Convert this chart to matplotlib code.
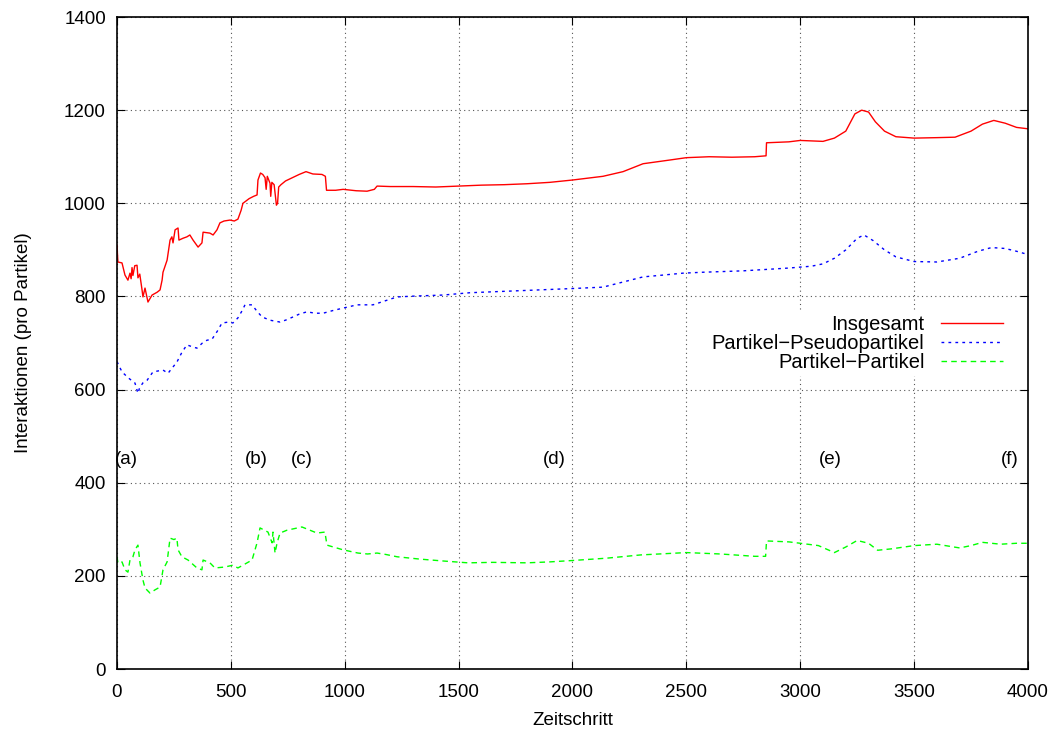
import numpy as np
import matplotlib
matplotlib.use('Agg')
import matplotlib.pyplot as plt

plt.rcParams['font.family'] = ['Liberation Sans', 'DejaVu Sans']

# Interaktionen pro Partikel ueber die Zeitschritte
x_ges = [0, 4, 22, 35, 48, 57, 62, 66, 70, 78, 88, 92, 100, 110, 114, 123, 136, 154, 176,
         189, 198, 202, 220, 233, 241, 246, 255, 268, 272, 290, 307, 320, 334, 356, 373, 378,
         408, 422, 439, 452, 470, 496, 515, 531, 545, 553, 580, 600, 615, 619, 630, 640, 650,
         655, 660, 672, 675, 680, 690, 700, 705, 710, 720, 740, 770, 800, 830, 860, 900, 915,
         920, 960, 993, 1050, 1098, 1130, 1142, 1200, 1300, 1400, 1500, 1600, 1700, 1800,
         1900, 2000, 2134, 2222, 2310, 2428, 2500, 2600, 2700, 2800, 2850, 2852, 2950, 3000,
         3100, 3150, 3200, 3240, 3270, 3300, 3330, 3370, 3420, 3500, 3600, 3680, 3750, 3800,
         3850, 3900, 3950, 4000]
y_ges = [910, 874, 872, 846, 835, 850, 838, 862, 845, 866, 867, 840, 848, 814, 799, 818, 788,
         803, 809, 814, 835, 852, 878, 921, 928, 915, 943, 947, 921, 925, 928, 932, 921, 906,
         915, 938, 936, 932, 943, 958, 962, 964, 962, 966, 985, 1000, 1010, 1015, 1018, 1050,
         1065, 1062, 1055, 1030, 1058, 1043, 1015, 1045, 1040, 996, 1000, 1035, 1040, 1048,
         1055, 1062, 1068, 1063, 1062, 1058, 1028, 1028, 1030, 1027, 1026, 1030, 1037, 1036,
         1036, 1035, 1037, 1039, 1040, 1042, 1045, 1050, 1058, 1068, 1085, 1093, 1098, 1100,
         1099, 1100, 1102, 1130, 1132, 1135, 1133, 1140, 1155, 1192, 1200, 1196, 1175, 1155,
         1143, 1140, 1141, 1142, 1155, 1170, 1178, 1172, 1163, 1160]

x_pp = [0, 10, 22, 50, 79, 92, 100, 115, 132, 158, 180, 202, 224, 240, 263, 285, 307, 330,
        351, 375, 395, 417, 440, 461, 490, 509, 531, 550, 562, 593, 615, 637, 672, 716, 745,
        773, 800, 834, 870, 905, 950, 993, 1054, 1124, 1186, 1230, 1317, 1431, 1550, 1700,
        1800, 1900, 2000, 2134, 2222, 2310, 2400, 2485, 2573, 2749, 2850, 2950, 3050, 3100,
        3150, 3200, 3250, 3280, 3320, 3370, 3420, 3500, 3600, 3700, 3780, 3840, 3900, 3950,
        4000]
y_pp = [660, 650, 638, 625, 614, 592, 605, 615, 620, 638, 640, 642, 635, 645, 659, 680, 696,
        692, 689, 700, 706, 708, 725, 743, 745, 743, 754, 770, 782, 782, 768, 756, 749, 745,
        750, 756, 762, 767, 764, 764, 770, 775, 782, 782, 792, 799, 801, 803, 808, 811, 813,
        815, 817, 820, 831, 842, 846, 850, 852, 855, 858, 861, 865, 870, 882, 900, 925, 932,
        920, 900, 885, 875, 874, 882, 897, 905, 903, 897, 890]

x_p = [0, 4, 22, 35, 48, 57, 70, 79, 92, 101, 114, 123, 145, 167, 189, 202, 220, 233, 250,
       263, 268, 285, 312, 351, 373, 378, 408, 430, 474, 509, 531, 553, 593, 615, 628, 663,
       681, 685, 694, 703, 716, 746, 812, 878, 913, 922, 992, 1058, 1100, 1142, 1180, 1230,
       1330, 1431, 1541, 1650, 1800, 1900, 2000, 2150, 2300, 2500, 2650, 2800, 2848, 2852,
       2950, 3000, 3080, 3150, 3200, 3250, 3300, 3340, 3400, 3500, 3600, 3700, 3750, 3800,
       3880, 3950, 4000]
y_p = [241, 228, 230, 213, 208, 234, 241, 256, 266, 228, 191, 174, 163, 170, 176, 213, 230,
       281, 278, 281, 256, 241, 234, 217, 213, 234, 228, 217, 219, 223, 217, 223, 234, 271,
       303, 294, 271, 294, 249, 271, 292, 298, 305, 292, 294, 266, 256, 249, 247, 249, 246,
       241, 236, 232, 228, 229, 228, 230, 233, 238, 245, 250, 247, 242, 242, 275, 273, 270,
       265, 250, 262, 276, 270, 255, 258, 265, 268, 260, 265, 272, 268, 270, 270]

marken = ['(a)', '(b)', '(c)', '(d)', '(e)', '(f)']
marken_x = [40, 610, 810, 1920, 3130, 3920]
marken_y = 450

fig = plt.figure(figsize=(10.54, 7.31), dpi=100)
ax = fig.add_axes([0.111, 0.0848, 0.8643, 0.8919])

ax.plot(x_ges, y_ges, color='#ff0000', lw=1.0, label='Insgesamt')
ax.plot(x_pp, y_pp, color='#0000ff', lw=1.0, dashes=(2, 3), label='Partikel\u2212Pseudopartikel')
ax.plot(x_p, y_p, color='#00ff00', lw=1.0, dashes=(4, 3), label='Partikel\u2212Partikel')

for txt, xm in zip(marken, marken_x):
    ax.text(xm, marken_y, txt, fontsize=13.5, ha='center', va='center')

ax.set_xlim(0, 4000)
ax.set_ylim(0, 1400)
ax.set_xticks(np.arange(0, 4001, 500))
ax.set_yticks(np.arange(0, 1401, 200))
ax.grid(True, color='#555555', linestyle=(0, (1, 3)), lw=0.8)
ax.tick_params(direction='in', top=True, right=True, length=6, labelsize=13.5)
ax.tick_params(axis='x', pad=11)
ax.tick_params(axis='y', pad=8)
for s in ax.spines.values():
    s.set_linewidth(1.2)

ax.set_xlabel('Zeitschritt', fontsize=13.5, labelpad=8)
ax.set_ylabel('Interaktionen (pro Partikel)', fontsize=13.5, labelpad=23)

leg = ax.legend(loc='upper right', bbox_to_anchor=(0.988, 0.565), markerfirst=False,
                frameon=True, fancybox=False, edgecolor='none', facecolor='white',
                framealpha=1, fontsize=14.5, handlelength=3.1, labelspacing=0.0,
                borderpad=0.2, handletextpad=0.8)
for t in leg.get_texts():
    t.set_ha('right')

fig.savefig('out.png', dpi=100)
